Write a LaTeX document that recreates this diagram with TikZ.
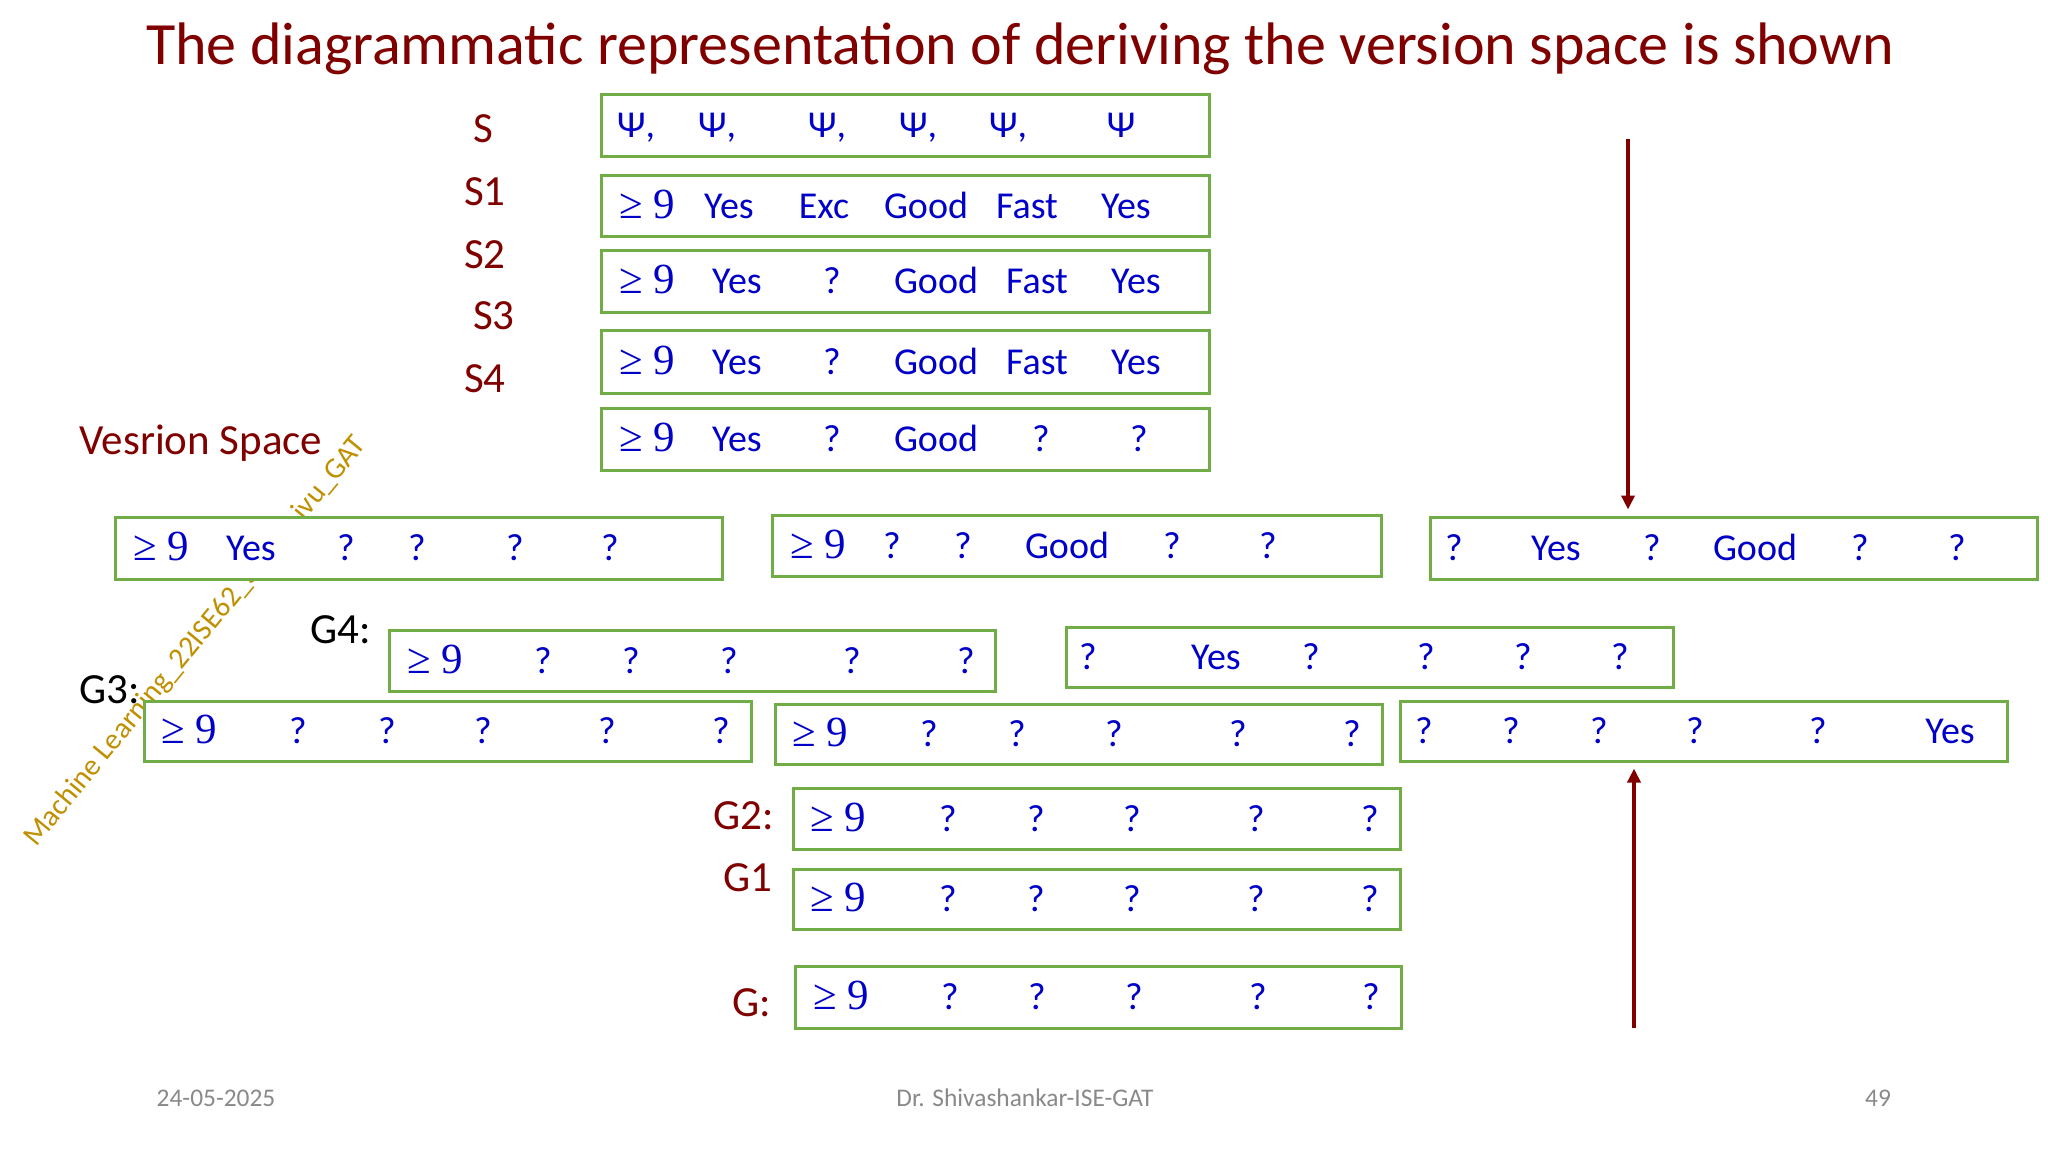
\documentclass[tikz,border=0pt]{standalone}
\usepackage{fontspec}
\setmainfont{Carlito}
\newfontfamily\numfont{Liberation Serif}
\usetikzlibrary{fit,arrows.meta}
\definecolor{dred}{RGB}{128,0,0}
\definecolor{tblue}{RGB}{0,0,200}
\definecolor{bgreen}{RGB}{112,173,71}
\definecolor{wmark}{RGB}{191,144,0}
\definecolor{fgray}{RGB}{137,137,137}
\newcommand\gn{{\numfont\fontsize{21.5}{24}\selectfont ≥ 9}}
\newcommand\putrow[3]{\foreach \xx/\tx [count=\i] in {#3}{\node[txt] (#1\i) at (\xx,#2) {\tx};}}
\begin{document}
\begin{tikzpicture}[x=0.5pt,y=-0.5pt,
 vbox/.style={draw=bgreen,line width=1.5pt,fill=white,inner sep=0pt},
 txt/.style={text=tblue,font=\fontsize{19}{22}\selectfont,anchor=base,inner sep=0pt},
 lbl/.style={text=dred,font=\fontsize{21.5}{25}\selectfont,inner sep=0pt},
 blbl/.style={lbl,text=black},
 arr/.style={draw=dred,line width=2pt,-{Triangle[width=6.5pt,length=7pt]}},
 foot/.style={text=fgray,font=\fontsize{12.7}{15}\selectfont,inner sep=0pt}]
\fill[white] (0,0) rectangle (2048,1152);
\useasboundingbox (0,0) rectangle (2048,1152);

% title
\node[font=\fontsize{30}{34}\selectfont,text=dred,anchor=base,inner sep=0pt] (title) at (1020,64)
  {The diagrammatic representation of deriving the version space is shown};

% watermark
\node[text=wmark,font=\fontsize{14.8}{18}\selectfont,anchor=base west,rotate=50.6,inner sep=0pt] (wm) at (36,848)
  {Machine Learning\_22ISE62\_Sh\hspace{1.8em}ivu\_GAT};

% S boxes
\node[vbox,fit={(601,94) (1209,156)}] (s0) {};
\node[vbox,fit={(601,175) (1209,236)}] (s1) {};
\node[vbox,fit={(601,250) (1209,312)}] (s2) {};
\node[vbox,fit={(601,330) (1209,393)}] (s3) {};
\node[vbox,fit={(601,408) (1209,470)}] (s4) {};
% version space boxes
\node[vbox,fit={(115,517) (722,579)}] (v1) {};
\node[vbox,fit={(772,515) (1381,576)}] (v2) {};
\node[vbox,fit={(1430,517) (2037,579)}] (v3) {};
% G boxes
\node[vbox,fit={(389,630) (995,691)}] (g4a) {};
\node[vbox,fit={(1066,627) (1673,687)}] (g4b) {};
\node[vbox,fit={(144,701) (751,761)}] (g3a) {};
\node[vbox,fit={(775,704) (1382,764)}] (g3b) {};
\node[vbox,fit={(1400,701) (2007,761)}] (g3c) {};
\node[vbox,fit={(793,788) (1400,849)}] (g2) {};
\node[vbox,fit={(793,869) (1400,929)}] (g1) {};
\node[vbox,fit={(795,966) (1401,1028)}] (g0) {};

% box texts
\putrow{s0-}{137}{636/{Ψ,},717/{Ψ,},827/{Ψ,},918/{Ψ,},1008/{Ψ,},1121/Ψ}
\putrow{s1-}{218}{647/\gn,729/Yes,824/Exc,926/Good,1027/Fast,1126/Yes}
\putrow{s2-}{293}{647/\gn,737/Yes,832/?,936/Good,1037/Fast,1136/Yes}
\putrow{s3-}{374}{647/\gn,737/Yes,832/?,936/Good,1037/Fast,1136/Yes}
\putrow{s4-}{451}{647/\gn,737/Yes,832/?,936/Good,1041/?,1139/?}
\putrow{v1-}{560}{161/\gn,251/Yes,346/?,417/?,515/?,610/?}
\putrow{v2-}{558}{818/\gn,892/?,963/?,1067/Good,1172/?,1268/?}
\putrow{v3-}{560}{1454/?,1556/Yes,1652/?,1755/Good,1860/?,1957/?}
\putrow{g4a-}{673}{435/\gn,543/?,631/?,729/?,852/?,966/?}
\putrow{g4b-}{669}{1088/?,1216/Yes,1311/?,1426/?,1523/?,1620/?}
\putrow{g3a-}{743}{189/\gn,298/?,387/?,483/?,607/?,721/?}
\putrow{g3b-}{746}{820/\gn,929/?,1017/?,1114/?,1238/?,1352/?}
\putrow{g3c-}{743}{1424/?,1511/?,1599/?,1695/?,1818/?,1950/Yes}
\putrow{g2-}{831}{838/\gn,948/?,1036/?,1132/?,1256/?,1370/?}
\putrow{g1-}{911}{838/\gn,948/?,1036/?,1132/?,1256/?,1370/?}
\putrow{g0-}{1009}{841/\gn,950/?,1037/?,1134/?,1258/?,1371/?}

% labels
\node[lbl] (lS) at (483,129) {S};
\node[lbl] (lS1) at (485,192) {S1};
\node[lbl] (lS2) at (485,255) {S2};
\node[lbl] (lS3) at (494,316) {S3};
\node[lbl] (lS4) at (485,379) {S4};
\node[lbl] (lvs) at (201,443) {Vesrion Space};
\node[blbl] (lG4) at (341,630) {G4:};
\node[blbl] (lG3) at (110,690) {G3:};
\node[lbl] (lG2) at (744,816) {G2:};
\node[lbl] (lG1) at (748,878) {G1};
\node[lbl] (lG) at (752,1003) {G:};

% arrows
\coordinate (atop) at (1628,139);
\draw[arr,shorten >=3pt] (atop) -- (atop |- v3.north);
\coordinate (abot) at (1634,1028);
\draw[arr,shorten >=3pt] (abot) -- (abot |- g3c.south);

% footer
\node[foot] (fdate) at (216,1098) {24-05-2025};
\node[foot] (fauth) at (1025,1098) {Dr. Shivashankar-ISE-GAT};
\node[foot] (fpage) at (1878,1098) {49};
\end{tikzpicture}
\end{document}
